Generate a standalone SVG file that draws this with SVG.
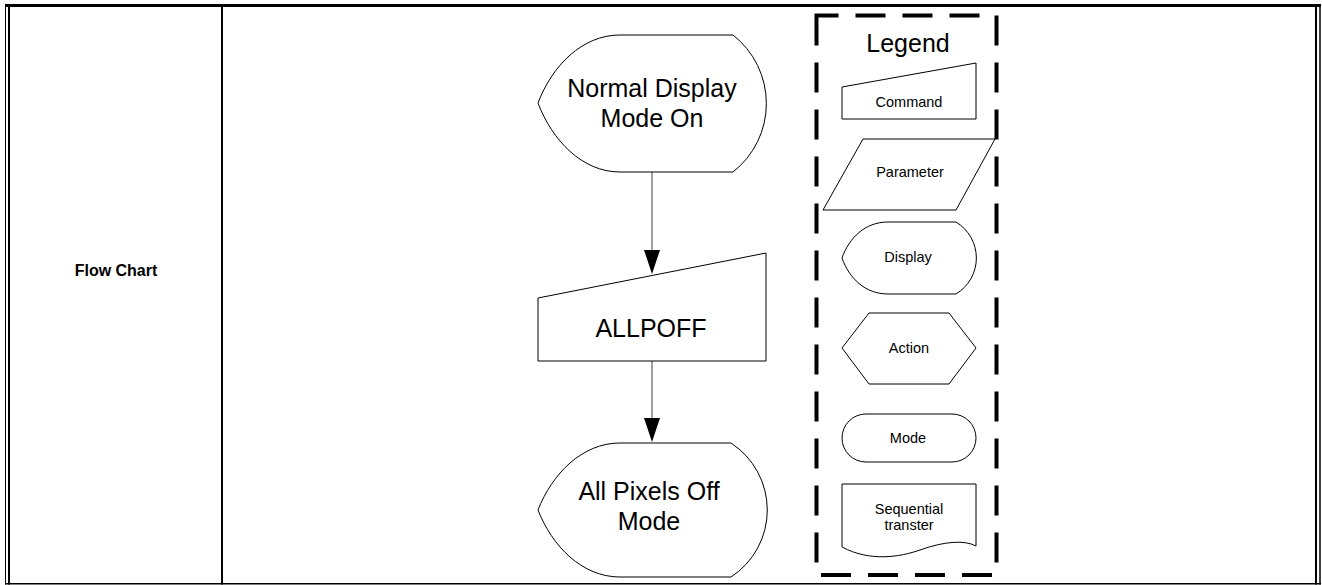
<svg xmlns="http://www.w3.org/2000/svg" width="1322" height="585" viewBox="0 0 1322 585">
<style>
.shape{fill:#fff;stroke:#000;stroke-width:1}
.t{font-family:"Liberation Sans",Arial,sans-serif;fill:#000;text-anchor:middle}
.big{font-size:25px}
.small{font-size:14.5px}
.conn{stroke:#808080;stroke-width:1.5;fill:none}
.head{fill:#000}
.tbl{stroke:#000;fill:none}
</style>
<rect width="1322" height="585" fill="#fff"/>
<g id="table">
<line class="tbl" x1="5" y1="5.5" x2="1321" y2="5.5" stroke-width="3"/>
<line class="tbl" x1="5.5" y1="4" x2="5.5" y2="584.5" stroke-width="1"/>
<line class="tbl" x1="9" y1="4" x2="9" y2="584.5" stroke-width="2"/>
<line class="tbl" x1="1316" y1="4" x2="1316" y2="584.5" stroke-width="2"/>
<line class="tbl" x1="1320" y1="4" x2="1320" y2="584.5" stroke-width="1.5"/>
<line class="tbl" x1="222" y1="4" x2="222" y2="584.5" stroke-width="2"/>
<line class="tbl" x1="5" y1="583.7" x2="1321" y2="583.7" stroke-width="1.5"/>
</g>
<g id="label-flowchart">
<text class="t" x="116" y="276" font-size="16" font-weight="bold">Flow Chart</text>
</g>
<g id="connectors">
<line class="conn" x1="652" y1="172" x2="652" y2="252"/>
<polygon class="head" points="644,250 660,250 652,274"/>
<line class="conn" x1="652" y1="361" x2="652" y2="420"/>
<polygon class="head" points="644,418 660,418 652,442"/>
</g>
<g id="node-normal-display">
<path class="shape" d="M620,35 H733 A87,87 0 0 1 733,172 H620 C582,172 552,140 538,103 C552,66 582,35 620,35 Z"/>
<text class="t big" x="652" y="97">Normal Display</text>
<text class="t big" x="652" y="127">Mode On</text>
</g>
<g id="node-allpoff">
<polygon class="shape" points="538,298 766,253 766,361 538,361"/>
<text class="t big" x="651" y="337">ALLPOFF</text>
</g>
<g id="node-all-pixels-off">
<path class="shape" d="M620,443 H731 A80,80 0 0 1 731,577 H620 C582,577 552,546 538,510 C552,474 582,443 620,443 Z"/>
<text class="t big" x="649" y="500">All Pixels Off</text>
<text class="t big" x="649" y="530">Mode</text>
</g>
<g id="legend">
<path d="M816.5,15.5 V575 H996.5 V15.5 Z" fill="none" stroke="#000" stroke-width="4" stroke-dasharray="30 17"/>
<text class="t" x="908" y="52" font-size="25">Legend</text>
</g>
<g id="legend-command">
<polygon class="shape" points="842,87 976,63 976,119 842,119"/>
<text class="t small" x="909" y="107">Command</text>
</g>
<g id="legend-parameter">
<polygon class="shape" points="863,139 995,139 956,210 823,210"/>
<text class="t small" x="910" y="177">Parameter</text>
</g>
<g id="legend-display">
<path class="shape" d="M888,222 H956 A42,42 0 0 1 956,294 H888 C865,294 849,278 842,258 C849,238 865,222 888,222 Z"/>
<text class="t small" x="908" y="262">Display</text>
</g>
<g id="legend-action">
<polygon class="shape" points="869,313 949,313 976,348 949,384 869,384 842,348"/>
<text class="t small" x="909" y="353">Action</text>
</g>
<g id="legend-mode">
<rect class="shape" x="842" y="414" width="134" height="48" rx="24" ry="24"/>
<text class="t small" x="908" y="443">Mode</text>
</g>
<g id="legend-sequential">
<path class="shape" d="M842,484 H976 V546 C965,540 945,541 920,550 C900,557 870,562 842,547 Z"/>
<text class="t small" x="909" y="514">Sequential</text>
<text class="t small" x="909" y="530">transter</text>
</g>
</svg>
